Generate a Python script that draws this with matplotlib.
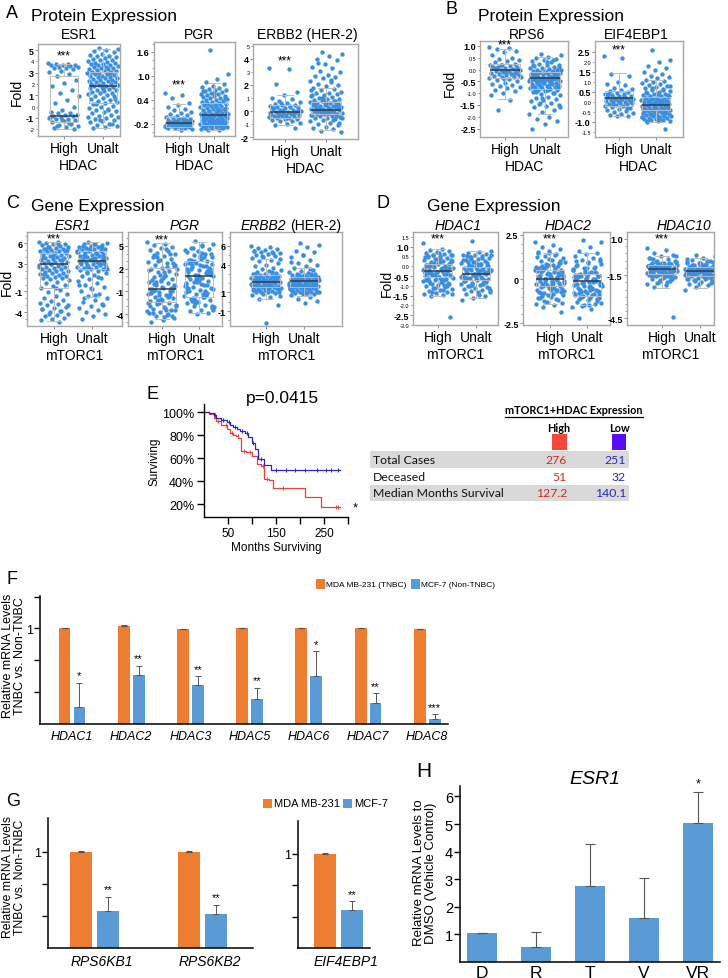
import numpy as np
import matplotlib
matplotlib.use("Agg")
import matplotlib.pyplot as plt
from matplotlib.patches import Rectangle
from matplotlib.lines import Line2D

plt.rcParams['font.family'] = ['Liberation Sans', 'DejaVu Sans']
plt.rcParams['axes.unicode_minus'] = False

# ------------------------------------------------------------------ data
GROUPS = ['High', 'Unalt']

# Panel A (protein, HDAC)
A_ESR1_HIGH = [3.85,3.8,3.75,3.7,3.7,3.65,3.6,3.55,3.5,3.45,3.4,3.3,3.2,3.05,2.9,2.7,2.4,2.1,1.8,1.5,1.2,0.9,0.6,0.3,0.0,-0.3,-0.45,-0.55,-0.6,-0.7,-0.75,-0.8,-0.85,-0.9,-1.0,-1.05,-1.1,-1.2,-1.3,-1.4,-1.5,-1.6,-1.7,-1.8,-1.9,-2.0,-1.15,-0.95,-1.45,-1.75]
A_ESR1_UNALT = [5.2,5.1,5.0,4.9,4.8,4.7,4.6,4.5,4.45,4.4,4.3,4.2,4.15,4.1,4.0,3.95,3.9,3.85,3.8,3.75,3.7,3.65,3.6,3.55,3.5,3.45,3.4,3.35,3.3,3.25,3.2,3.15,3.1,3.05,3.0,2.95,2.9,2.85,2.8,2.75,2.7,2.65,2.6,2.55,2.5,2.45,2.4,2.35,2.3,2.25,2.2,2.15,2.1,2.05,2.0,1.95,1.9,1.85,1.8,1.75,1.7,1.65,1.6,1.5,1.45,1.4,1.3,1.25,1.2,1.1,1.0,0.95,0.9,0.8,0.7,0.6,0.5,0.4,0.3,0.2,0.1,0.0,-0.1,-0.2,-0.3,-0.4,-0.5,-0.6,-0.7,-0.8,-0.9,-1.0,-1.1,-1.2,-1.3,-1.4,-1.5,-1.6,-1.7,-1.8,-1.9,-1.5,-1.2,-0.9,-0.3,0.2,0.7,1.55,2.0,3.0]
A_ESR1_BOX = [(-1.35, -0.8, 2.7, -2.0, 3.8), (0.3, 1.8, 3.1, -1.9, 5.1)]

A_PGR_HIGH = [0.58,0.52,0.45,0.32,0.27,0.22,0.18,0.14,0.1,0.07,0.04,0.02,0.0,-0.02,-0.04,-0.05,-0.07,-0.08,-0.1,-0.11,-0.12,-0.13,-0.14,-0.15,-0.16,-0.17,-0.17,-0.18,-0.19,-0.2,-0.2,-0.21,-0.22,-0.23,-0.24,-0.25,-0.26,-0.27,-0.28,-0.29,-0.3,-0.31,-0.33,-0.35,-0.18,-0.22,-0.12,-0.27,-0.09,-0.15]
A_PGR_UNALT = [1.65,1.05,0.92,0.85,0.8,0.76,0.72,0.7,0.68,0.66,0.64,0.62,0.6,0.58,0.56,0.55,0.53,0.51,0.5,0.48,0.46,0.45,0.43,0.41,0.4,0.38,0.36,0.35,0.33,0.31,0.3,0.28,0.27,0.25,0.24,0.22,0.21,0.2,0.18,0.17,0.15,0.14,0.12,0.11,0.1,0.08,0.07,0.05,0.04,0.03,0.01,0.0,-0.01,-0.02,-0.03,-0.05,-0.06,-0.07,-0.08,-0.09,-0.1,-0.11,-0.12,-0.13,-0.14,-0.15,-0.16,-0.17,-0.18,-0.19,-0.2,-0.21,-0.22,-0.23,-0.24,-0.25,-0.26,-0.27,-0.28,-0.29,-0.3,-0.31,-0.32,-0.34,-0.36,-0.2,-0.15,-0.1,-0.05,0.0,0.05,0.1,-0.25,-0.18,-0.12,-0.03,0.02,0.13,0.19,0.26,-0.22,-0.28,-0.08,0.06,0.16,0.32,0.44,0.57,0.63,-0.14]
A_PGR_BOX = [(-0.28, -0.17, -0.03, -0.35, 0.3), (-0.22, 0.02, 0.32, -0.35, 0.82)]

A_ERBB2_HIGH = [3.3,3.2,2.1,1.5,1.2,1.0,0.9,0.8,0.7,0.6,0.55,0.5,0.45,0.4,0.35,0.3,0.25,0.2,0.15,0.1,0.05,0.0,-0.05,-0.1,-0.1,-0.15,-0.2,-0.2,-0.25,-0.3,-0.3,-0.35,-0.4,-0.4,-0.45,-0.5,-0.55,-0.6,-0.65,-0.7,-0.75,-0.8,-0.9,-1.0,-1.1,-1.3,0.1,-0.15,0.3,-0.35,0.0,-0.5,0.2,-0.25,0.6]
A_ERBB2_UNALT = [4.5,4.4,4.2,4.0,3.9,3.6,3.4,3.3,3.1,3.0,2.8,2.7,2.6,2.5,2.3,2.2,2.1,2.0,1.9,1.8,1.7,1.6,1.5,1.4,1.35,1.3,1.2,1.15,1.1,1.0,0.95,0.9,0.85,0.8,0.75,0.7,0.65,0.6,0.55,0.5,0.45,0.4,0.35,0.3,0.28,0.25,0.2,0.18,0.15,0.1,0.08,0.05,0.0,-0.02,-0.05,-0.1,-0.12,-0.15,-0.2,-0.22,-0.25,-0.3,-0.35,-0.4,-0.45,-0.5,-0.55,-0.6,-0.7,-0.8,-0.9,-1.0,-1.1,-1.2,-1.3,-1.4,-1.5,-1.6,0.1,0.3,0.5,-0.1,-0.3,0.0,0.2,0.4,-0.2,0.6,0.8,1.0,-0.5,0.15,-0.05,0.35,0.7,1.2,-0.7,0.05,0.25,-0.15,0.45,-0.35,0.9,1.6,2.4,3.7,-0.9,0.65]
A_ERBB2_BOX = [(-0.55, -0.1, 0.45, -1.08, 1.2), (-0.25, 0.1, 0.7, -1.45, 1.8)]

# Panel B (protein, HDAC)
B_RPS6_HIGH = [0.95,0.9,0.85,0.8,0.75,0.6,0.5,0.45,0.4,0.35,0.3,0.25,0.2,0.18,0.15,0.12,0.1,0.08,0.05,0.03,0.0,-0.02,-0.05,-0.07,-0.1,-0.12,-0.15,-0.18,-0.2,-0.23,-0.25,-0.28,-0.3,-0.33,-0.35,-0.4,-0.45,-0.5,-0.55,-0.6,-0.65,-0.7,-0.75,-0.8,-0.85,-0.9,-1.0,-1.1,-1.3,-1.7,0.0,-0.1,0.1,-0.2,0.2,-0.3,-0.05,0.05,-0.15,-0.4]
B_RPS6_UNALT = [0.65,0.6,0.55,0.5,0.45,0.4,0.35,0.3,0.25,0.2,0.18,0.15,0.1,0.08,0.05,0.02,0.0,-0.02,-0.05,-0.08,-0.1,-0.12,-0.15,-0.18,-0.2,-0.22,-0.25,-0.28,-0.3,-0.32,-0.35,-0.38,-0.4,-0.42,-0.45,-0.48,-0.5,-0.52,-0.55,-0.58,-0.6,-0.62,-0.65,-0.68,-0.7,-0.72,-0.75,-0.78,-0.8,-0.82,-0.85,-0.88,-0.9,-0.95,-1.0,-1.05,-1.1,-1.15,-1.2,-1.25,-1.3,-1.35,-1.4,-1.45,-1.5,-1.55,-1.6,-1.7,-1.8,-1.9,-2.0,-2.1,-2.2,-2.3,-2.5,-0.3,-0.4,-0.5,-0.35,-0.45,-0.25,-0.55,-0.2,-0.6,-0.15,-0.65,-0.1,-0.7,-0.05,-0.75,0.0,-0.8,-0.3,-0.4,-0.5,-0.28,-0.38,-0.48,0.1,0.3,-0.9,-1.0,-1.2,-0.42,-0.33,-0.58,-0.22,-0.12,0.2,0.4,-1.4,-1.6,-0.85,-0.95,-0.18,-0.36,-0.46,-0.52,-0.62,-0.72]
B_RPS6_BOX = [(-0.37, 0.0, 0.24, -1.25, 0.88), (-0.82, -0.36, -0.09, -1.9, 0.55)]

B_EIF_HIGH = [2.3,2.2,1.4,1.3,1.0,0.9,0.85,0.7,0.65,0.6,0.55,0.5,0.45,0.4,0.38,0.35,0.3,0.28,0.25,0.2,0.18,0.15,0.12,0.1,0.08,0.05,0.02,0.0,-0.02,-0.05,-0.08,-0.1,-0.12,-0.15,-0.2,-0.22,-0.25,-0.3,-0.35,-0.4,-0.45,-0.5,-0.55,-0.6,-0.65,-0.7,-0.72,0.2,0.3,-0.1,0.0,0.1,0.4,-0.3,0.15]
B_EIF_UNALT = [2.6,2.1,2.0,1.8,1.7,1.6,1.5,1.4,1.3,1.25,1.2,1.1,1.05,1.0,0.95,0.9,0.85,0.8,0.75,0.7,0.65,0.6,0.55,0.5,0.45,0.4,0.38,0.35,0.3,0.28,0.25,0.2,0.18,0.15,0.12,0.1,0.08,0.05,0.02,0.0,-0.02,-0.05,-0.08,-0.1,-0.12,-0.15,-0.18,-0.2,-0.22,-0.25,-0.28,-0.3,-0.32,-0.35,-0.38,-0.4,-0.42,-0.45,-0.48,-0.5,-0.52,-0.55,-0.58,-0.6,-0.62,-0.65,-0.68,-0.7,-0.72,-0.75,-0.78,-0.8,-0.82,-0.85,-0.88,-0.9,-0.92,-0.95,-0.98,-1.0,-1.35,-0.1,-0.2,-0.3,-0.4,0.0,0.1,0.2,-0.5,-0.6,-0.7,-0.8,-0.15,-0.25,-0.35,-0.45,0.05,0.15,0.3,0.4,0.5,-0.55,-0.65,-0.75,-0.05,-0.12,-0.22,-0.33,-0.43,0.6,0.7,0.8,-0.9,-0.95,-0.02,-0.28,-0.38,-0.48,0.25,0.35]
B_EIF_BOX = [(-0.23, 0.18, 0.55, -0.7, 1.45), (-0.4, -0.17, 0.22, -1.0, 1.1)]

# Panel C (gene, mTORC1)
C_ESR1_HIGH = [6.2,6.1,6.0,5.9,5.8,5.7,5.6,5.5,5.4,5.3,5.2,5.1,5.0,4.9,4.8,4.7,4.6,4.5,4.4,4.3,4.2,4.1,4.0,3.9,3.8,3.7,3.6,3.5,3.4,3.3,3.2,3.1,3.0,2.9,2.8,2.7,2.6,2.5,2.4,2.3,2.2,2.1,2.0,1.9,1.8,1.7,1.6,1.5,1.4,1.3,1.2,1.1,1.0,0.9,0.8,0.6,0.4,0.2,0.0,-0.2,-0.5,-0.8,-1.1,-1.4,-1.7,-2.0,-2.2,-2.4,-2.6,-2.8,-3.0,-3.2,-3.4,-3.6,-3.8,-4.0,-4.2,-4.4,-4.6,-4.8,-5.0,-5.2,-5.4,5.5,5.0,4.5,4.0,3.5,3.0,2.5,5.8,5.2,4.8,4.2,-3.5,-3.9,-4.3,-2.9,-0.5,1.5]
C_ESR1_UNALT = [6.1,6.0,5.9,5.8,5.7,5.6,5.5,5.4,5.3,5.2,5.1,5.0,4.9,4.8,4.7,4.6,4.5,4.4,4.3,4.2,4.1,4.0,3.9,3.8,3.7,3.6,3.5,3.4,3.3,3.2,3.1,3.0,2.9,2.8,2.7,2.6,2.5,2.4,2.3,2.2,2.1,2.0,1.8,1.6,1.4,1.2,1.0,0.8,0.5,0.2,-0.1,-0.4,-0.7,-1.0,-1.3,-1.6,-1.9,-2.2,-2.5,-2.8,-3.1,-3.4,-3.7,-4.0,-4.3,-4.6,-5.0,5.5,5.2,4.9,4.6,4.3,4.0,3.7,3.4,3.1,2.8,2.5,5.9,5.6,5.3,5.0,4.7,4.4,4.1,3.8,3.5,3.2,2.9,2.6,2.3,-1.5,-2.0,-3.0,-0.5,0.0,1.1,1.7,3.0,3.6]
C_ESR1_BOX = [(-0.5, 3.0, 4.55, -5.3, 6.2), (2.2, 3.45, 4.9, -1.8, 6.1)]

C_PGR_HIGH = [5.5,5.3,5.1,4.9,4.7,4.5,4.3,4.1,3.9,3.7,3.5,3.3,3.1,2.9,2.7,2.5,2.3,2.1,1.9,1.7,1.5,1.3,1.1,0.9,0.7,0.5,0.3,0.1,-0.1,-0.3,-0.5,-0.7,-0.9,-1.1,-1.3,-1.5,-1.7,-1.9,-2.1,-2.3,-2.5,-2.7,-2.9,-3.1,-3.3,-3.5,-3.7,-3.9,-4.1,-4.3,-4.5,-4.8,-5.0,4.0,3.0,2.0,1.0,0.0,-1.0,-2.0,-3.0,-4.0,3.5,2.5,1.5,0.5,-0.5,-1.5,-2.5,-3.5,-0.8,-0.6,-0.4,-1.2,-1.6,-2.2,-2.8,-3.2,-3.8,-4.2,1.2,1.8,2.2,0.2,-0.2,0.8,-0.9,-1.4,-2.6,-3.6,4.6,3.8,2.8,0.4,-0.7,-1.8,-2.4,-3.4,-4.4,-1.0]
C_PGR_UNALT = [5.6,5.3,5.0,4.8,4.6,4.4,4.2,4.0,3.8,3.6,3.4,3.2,3.0,2.8,2.6,2.4,2.2,2.0,1.8,1.6,1.4,1.2,1.0,0.8,0.6,0.4,0.2,0.0,-0.2,-0.4,-0.6,-0.8,-1.0,-1.2,-1.4,-1.6,-1.8,-2.0,-2.2,-2.4,-2.6,-2.8,-3.0,-3.2,-3.4,-3.6,-3.8,-4.0,4.5,3.5,2.5,1.5,0.5,-0.5,-1.5,-2.5,-3.5,4.1,3.1,2.1,1.1,0.1,-0.9,-1.9,-2.9,3.7,2.7,1.7,0.7,-0.3,-1.3,-2.3,1.3,0.9,1.9,2.3,0.3,-0.7,3.3,2.9,1.4,0.6,-1.1,-1.7,4.7,3.9,2.5,1.0,-0.1,-2.1,-3.1,5.1,2.0,1.6,0.4,-0.5,-1.4,3.0,2.6,0.0]
C_PGR_BOX = [(-2.4, -0.65, 2.15, -4.7, 5.4), (-1.7, 1.05, 3.05, -3.9, 5.5)]

C_ERBB2_HIGH = [6.0,5.9,5.8,5.7,5.6,5.5,5.4,5.3,5.2,5.1,5.0,4.9,4.8,4.7,4.5,4.4,4.2,4.0,3.8,3.6,3.5,3.4,3.3,3.2,3.1,3.0,2.95,2.9,2.85,2.8,2.75,2.7,2.65,2.6,2.55,2.5,2.45,2.4,2.35,2.3,2.25,2.2,2.15,2.1,2.05,2.0,1.95,1.9,1.85,1.8,1.75,1.7,1.65,1.6,1.55,1.5,1.45,1.4,1.35,1.3,1.25,1.2,1.15,1.1,1.05,1.0,0.9,0.8,0.7,0.5,0.3,-0.3,-2.3,5.5,5.2,4.9,4.6,2.0,2.2,2.4,1.8,1.6,2.6,2.8,1.4,1.2,3.0,2.1,2.3,1.9,1.7,2.5,2.7,1.5,1.3,3.2,1.1,0.6,2.05,1.95]
C_ERBB2_UNALT = [6.3,6.1,5.9,5.5,5.3,5.0,4.8,4.5,4.2,4.0,3.8,3.6,3.4,3.3,3.2,3.1,3.0,2.95,2.9,2.85,2.8,2.75,2.7,2.65,2.6,2.55,2.5,2.45,2.4,2.35,2.3,2.25,2.2,2.15,2.1,2.05,2.0,1.95,1.9,1.85,1.8,1.75,1.7,1.65,1.6,1.55,1.5,1.45,1.4,1.35,1.3,1.25,1.2,1.15,1.1,1.05,1.0,0.95,0.9,0.85,0.8,0.7,0.5,0.3,0.1,-0.1,2.0,2.2,2.4,1.8,1.6,2.6,2.8,1.4,1.2,3.0,2.1,2.3,1.9,1.7,2.5,2.7,1.5,1.3,2.05,1.95,2.15,2.25,1.85,1.75,2.35,2.45,1.65,1.55,5.0,4.3,3.5,2.9,1.1,0.9]
C_ERBB2_BOX = [(1.55, 2.16, 2.88, 0.3, 4.6), (1.55, 2.2, 2.63, 0.6, 3.6)]

# Panel D (gene, mTORC1)
D_HDAC1_HIGH = [1.2,0.9,0.85,0.8,0.75,0.7,0.65,0.6,0.55,0.5,0.45,0.4,0.35,0.3,0.25,0.2,0.15,0.1,0.05,0.0,-0.05,-0.1,-0.15,-0.2,-0.25,-0.3,-0.35,-0.4,-0.45,-0.5,-0.55,-0.6,-0.65,-0.7,-0.75,-0.8,-0.85,-0.9,-0.95,-1.0,-1.05,-1.1,-1.15,-1.2,-1.25,-1.3,-1.35,-1.4,-1.45,-1.5,-2.6,0.2,0.0,-0.2,-0.4,-0.6,-0.8,0.1,-0.1,-0.3,-0.5,-0.7,-0.9,0.3,0.4,0.5,-1.0,-1.1,-0.15,-0.25,-0.35,-0.45,-0.55,0.05,-0.05,0.15,0.25,-0.65,-0.75,-0.85,0.35,0.45,-1.2,-1.3,0.6,0.7,-0.28,-0.38,-0.48,-0.18,-0.08,0.02,0.12,-0.58,-0.68,-0.95,0.55,-1.4,0.22,-0.32]
D_HDAC1_UNALT = [1.3,0.8,0.75,0.7,0.65,0.6,0.55,0.5,0.45,0.4,0.35,0.3,0.25,0.2,0.15,0.1,0.05,0.0,-0.05,-0.1,-0.15,-0.2,-0.25,-0.3,-0.35,-0.4,-0.45,-0.5,-0.55,-0.6,-0.65,-0.7,-0.75,-0.8,-0.85,-0.9,-0.95,-1.0,-1.05,-1.1,-1.15,-1.2,-1.25,-1.3,-1.35,-1.4,-1.5,-1.6,-1.7,0.1,-0.1,-0.3,-0.5,-0.7,-0.9,0.0,-0.2,-0.4,-0.6,-0.8,0.2,0.3,0.4,-1.0,-1.1,-0.15,-0.25,-0.35,-0.45,-0.55,0.05,-0.05,0.15,-0.65,-0.75,-0.85,0.35,-1.2,-1.3,0.5,-0.28,-0.38,-0.48,-0.18,-0.08,0.02,0.12,-0.58,-0.68,-0.95,0.6,-1.45,0.22,-0.32,-0.42,-0.52,-0.62,0.45,-0.12,-0.22]
D_HDAC1_BOX = [(-0.57, -0.23, 0.1, -1.5, 0.9), (-0.68, -0.37, -0.02, -1.6, 0.8)]

D_HDAC2_HIGH = [2.1,1.95,1.8,1.7,1.6,1.5,1.4,1.3,1.2,1.1,1.0,0.9,0.8,0.7,0.6,0.5,0.4,0.3,0.2,0.1,0.0,-0.1,-0.2,-0.3,-0.4,-0.5,-0.6,-0.7,-0.8,-0.9,-1.0,-1.1,-1.2,-1.3,-1.4,-1.5,-1.6,-1.9,0.15,0.05,-0.05,-0.15,-0.25,-0.35,-0.45,0.25,0.35,0.45,0.55,0.65,-0.55,-0.65,-0.75,0.75,0.85,0.95,-0.85,-0.95,1.05,1.15,-1.05,-1.15,0.0,0.1,-0.1,0.2,-0.2,0.3,-0.3,0.4,-0.4,0.5,-0.5,0.6,-0.6,0.7,-0.7,0.8,-0.8,0.9,-0.9,1.25,1.35,-1.25,-1.35,0.12,-0.12,0.32,-0.32,0.52,-0.52,0.72,-0.72,1.45,1.55,-0.02,0.02,0.22,-0.22,0.42]
D_HDAC2_UNALT = [2.2,2.1,1.8,1.6,1.5,1.4,1.3,1.2,1.1,1.0,0.9,0.8,0.7,0.6,0.5,0.4,0.3,0.2,0.1,0.0,-0.1,-0.2,-0.3,-0.4,-0.5,-0.6,-0.7,-0.8,-0.9,-1.0,-1.1,-1.2,-1.3,-1.4,-1.5,-1.6,-1.7,-2.2,0.15,0.05,-0.05,-0.15,-0.25,-0.35,-0.45,0.25,0.35,0.45,0.55,-0.55,-0.65,-0.75,0.65,0.75,-0.85,-0.95,0.85,-1.05,-1.15,-1.25,0.0,0.1,-0.1,0.2,-0.2,0.3,-0.3,0.4,-0.4,0.5,-0.5,-0.6,-0.7,-0.8,-0.9,0.6,-1.0,-1.35,-1.45,0.12,-0.12,0.32,-0.32,-0.52,-0.72,-0.92,0.95,1.05,-0.02,-0.22,-0.42,-0.62,-0.82,-1.12,0.42,0.22,0.02,-1.55,1.15,-0.18]
D_HDAC2_BOX = [(-0.41, 0.0, 0.53, -1.4, 1.5), (-0.95, -0.11, 0.28, -1.5, 1.5)]

D_HDAC10_HIGH = [0.4,0.2,0.0,-0.1,-0.2,-0.3,-0.4,-0.5,-0.6,-0.65,-0.7,-0.75,-0.8,-0.85,-0.9,-0.95,-1.0,-1.05,-1.1,-1.15,-1.2,-1.25,-1.3,-1.35,-1.4,-1.45,-1.5,-1.55,-1.6,-1.65,-1.7,-1.8,-1.9,-2.0,-2.1,-2.2,-2.35,-4.4,-0.7,-0.8,-0.9,-1.0,-1.1,-1.2,-1.3,-1.4,-0.75,-0.85,-0.95,-1.05,-1.15,-1.25,-1.35,-1.45,-0.72,-0.82,-0.92,-1.02,-1.12,-1.22,-1.32,-1.42,-0.6,-0.5,-1.5,-1.6,-1.7,-0.78,-0.88,-0.98,-1.08,-1.18,-1.28,-1.38,-0.68,-1.48,-0.58,-1.58,-0.4,-1.75,-1.85,-0.3,-1.95,-0.98,-1.08,-1.18,-0.88,-1.28,-0.78,-1.38,-1.0,-1.1,-1.2,-0.9,-1.3,-0.8,-2.05,-0.2,-1.65,-1.55]
D_HDAC10_UNALT = [-0.1,-0.2,-0.35,-0.45,-0.55,-0.65,-0.7,-0.75,-0.8,-0.85,-0.9,-0.95,-1.0,-1.05,-1.1,-1.15,-1.2,-1.25,-1.3,-1.35,-1.4,-1.45,-1.5,-1.55,-1.6,-1.65,-1.7,-1.75,-1.8,-1.85,-1.9,-2.0,-2.1,-2.2,-2.3,-2.5,-0.8,-0.9,-1.0,-1.1,-1.2,-1.3,-1.4,-1.5,-0.85,-0.95,-1.05,-1.15,-1.25,-1.35,-1.45,-1.55,-0.82,-0.92,-1.02,-1.12,-1.22,-1.32,-1.42,-1.52,-1.62,-0.6,-1.7,-0.88,-0.98,-1.08,-1.18,-1.28,-1.38,-1.48,-1.58,-0.78,-1.68,-0.68,-1.78,-0.5,-1.88,-1.98,-1.0,-1.1,-1.2,-1.3,-1.4,-0.9,-1.5,-1.6,-0.75,-1.25,-1.35,-1.15,-1.45,-1.05,-0.95,-2.05,-2.15,-0.4,-1.72,-1.82,-0.58,-1.22]
D_HDAC10_BOX = [(-1.43, -1.09, -0.81, -2.4, -0.2), (-1.59, -1.24, -0.93, -2.4, -0.3)]

# Panel E (Kaplan-Meier, months vs % surviving)
KM_T_HIGH = [0, 10, 20, 26, 35, 47, 55, 61, 66, 71, 78, 88, 99, 110, 118, 126, 135, 144, 210, 243, 283]
KM_S_HIGH = [100, 98, 95, 92, 89, 85, 82, 80, 79, 77, 66, 65, 62, 55, 53, 42, 41, 34, 26, 17, 17]
KM_T_LOW = [0, 10, 20, 26, 35, 47, 55, 61, 68, 75, 85, 92, 99, 106, 113, 124, 139, 283]
KM_S_LOW = [100, 99, 97, 95, 93, 91, 89, 87, 85, 83.5, 82, 78, 73, 68, 59, 54, 50, 50]
KM_CENS_HIGH = [30, 45, 58, 70, 84, 95, 122, 132, 165, 275, 280]
KM_CENS_LOW = [22, 40, 52, 65, 80, 90, 102, 118, 150, 170, 190, 210, 235, 255, 265, 280]
TABLE_ROWS = ['Total Cases', 'Deceased', 'Median Months Survival']
TABLE_HIGH = ['276', '51', '127.2']
TABLE_LOW = ['251', '32', '140.1']

# Panel F
F_GENES = ['HDAC1', 'HDAC2', 'HDAC3', 'HDAC5', 'HDAC6', 'HDAC7', 'HDAC8']
F_MDA = [1.0, 1.03, 0.99, 1.0, 1.0, 1.0, 0.99]
F_MDA_ERR = [0.006, 0.006, 0.0, 0.006, 0.006, 0.006, 0.006]
F_MCF = [0.18, 0.51, 0.41, 0.26, 0.50, 0.22, 0.05]
F_MCF_ERR = [0.25, 0.10, 0.09, 0.12, 0.26, 0.10, 0.05]
F_SIG = ['*', '**', '**', '**', '*', '**', '***']

# Panel G
G_GENES = ['RPS6KB1', 'RPS6KB2', 'EIF4EBP1']
G_MDA = [1.0, 1.0, 1.0]
G_MDA_ERR = [0.006, 0.006, 0.006]
G_MCF = [0.385, 0.35, 0.40]
G_MCF_ERR = [0.145, 0.10, 0.10]
G_SIG = ['**', '**', '**']

# Panel H
H_TREAT = ['D', 'R', 'T', 'V', 'VR']
H_VALS = [1.05, 0.55, 2.77, 1.58, 5.05]
H_ERR = [0.01, 0.53, 1.51, 1.46, 1.12]
H_SIG = ['', '', '', '', '*']

# ------------------------------------------------------------------ figure
W, H = 728, 979
fig = plt.figure(figsize=(W / 100, H / 100), dpi=100)
PT = '#3b8fe2'
OR = '#ed7d31'
BL = '#5b9bd5'


def add_ax(l, t, r, b):
    return fig.add_axes([l / W, 1 - b / H, (r - l) / W, (b - t) / H])


def ftext(x, y, s, **kw):
    kw.setdefault('ha', 'left')
    kw.setdefault('va', 'center')
    return fig.text(x / W, 1 - y / H, s, **kw)


def frect(l, t, r, b, color):
    fig.add_artist(Rectangle((l / W, 1 - b / H), (r - l) / W, (b - t) / H,
                             transform=fig.transFigure, color=color, lw=0))


def strip_panel(px, centers, ylim, groups, boxes, major, major_lab,
                minor, minor_lab, star_y, xlabel):
    l, t, r, b = px
    ax = add_ax(l, t, r, b)
    c0, c1 = centers
    u = c1 - c0
    ax.set_xlim(-(c0 - l) / u, (r - c0) / u)
    ax.set_ylim(*ylim)
    for k, vals in enumerate(groups):
        v = np.asarray(vals, float)
        off = ((np.arange(v.size) * 0.6180339887 + 0.37 * k) % 1.0 - 0.5) * 0.80
        ax.scatter(k + off, v, s=10, color=PT, linewidths=0, zorder=2)
    stats = [dict(q1=q1, med=md, q3=q3, whislo=lo, whishi=hi, fliers=[])
             for (q1, md, q3, lo, hi) in boxes]
    gp = dict(color='#bcbcbc', lw=0.7)
    ax.bxp(stats, positions=[0, 1], widths=0.74, showfliers=False,
           boxprops=gp, whiskerprops=gp, capprops=gp,
           medianprops=dict(color='#3a3a3a', lw=1.1), zorder=3)
    ax.set_yticks(major)
    ax.set_yticklabels(major_lab, fontsize=6.5, fontweight='bold')
    ax.set_yticks(minor, minor=True)
    if minor_lab is not None:
        ax.set_yticklabels(minor_lab, minor=True, fontsize=4)
    ax.tick_params(axis='y', which='major', length=2.2, width=0.6, color='#777777', pad=1)
    ax.tick_params(axis='y', which='minor', length=1.5, width=0.5, color='#777777', pad=1)
    ax.set_xticks([0, 1])
    ax.set_xticklabels(GROUPS, fontsize=10)
    ax.tick_params(axis='x', length=2.5, width=0.6, color='#777777', pad=1)
    ax.set_xlabel(xlabel, fontsize=10, labelpad=2)
    for s in ax.spines.values():
        s.set_color('#a8a8a8')
        s.set_linewidth(1.0)
    if star_y is not None:
        ax.text(0, star_y, '***', ha='center', va='center', fontsize=8.5, zorder=5)
    return ax


def minors(lo, hi, step, majors):
    vals = np.round(np.arange(lo, hi + 1e-9, step), 3)
    return [v for v in vals if all(abs(v - m) > 1e-6 for m in majors)]


# ---- Panel A
ftext(6, 14, 'A', fontsize=13)
ftext(31, 16, 'Protein Expression', fontsize=12.5)
ftext(79, 35, 'ESR1', fontsize=10, ha='center')
ftext(199, 35, 'PGR', fontsize=10, ha='center')
ftext(307, 35, 'ERBB2 (HER-2)', fontsize=10, ha='center')
strip_panel((38, 45, 120, 137), (64, 103), (-2.6, 5.55), [A_ESR1_HIGH, A_ESR1_UNALT], A_ESR1_BOX,
            [5, 3, 1, -1], ['5', '3', '1', '-1'], [4, 2, 0, -2], ['4', '2', '0', '-2'], 4.5, 'HDAC')
mj = [1.6, 1.0, 0.4, -0.2]
strip_panel((154, 43, 235, 137), (179, 214), (-0.5, 1.85), [A_PGR_HIGH, A_PGR_UNALT], A_PGR_BOX,
            mj, ['1.6', '1.0', '0.4', '-0.2'], minors(-0.4, 1.8, 0.2, mj), None, 0.8, 'HDAC')
strip_panel((253, 45, 358, 140), (285, 326), (-2.15, 5.15), [A_ERBB2_HIGH, A_ERBB2_UNALT], A_ERBB2_BOX,
            [4, 2, 0, -2], ['4', '2', '0', '-2'], [5, 3, 1, -1], ['5', '3', '1', '-1'], 3.87, 'HDAC')
ftext(17, 92, 'Fold', fontsize=10, rotation=90, ha='center')

# ---- Panel B
ftext(445, 9, 'B', fontsize=13)
ftext(478, 17, 'Protein Expression', fontsize=12.5)
ftext(527, 35, 'RPS6', fontsize=10, ha='center')
ftext(636, 35, 'EIF4EBP1', fontsize=10, ha='center')
strip_panel((480, 42, 568, 138), (505, 545), (-2.86, 1.21), [B_RPS6_HIGH, B_RPS6_UNALT], B_RPS6_BOX,
            [1.0, -0.5, -1.5, -2.5], ['1.0', '-0.5', '-1.5', '-2.5'],
            [0.5, 0.0, -1.0, -2.0], ['0.5', '0.0', '-1.0', '-2.0'], 1.08, 'HDAC')
strip_panel((595, 42, 683, 138), (619, 656), (-1.77, 3.03), [B_EIF_HIGH, B_EIF_UNALT], B_EIF_BOX,
            [2.5, 1.5, 0.5, -1.0], ['2.5', '1.5', '0.5', '-1.0'],
            [2.0, 1.0, 0.0, -0.5, -1.5], ['2.0', '1.0', '0.0', '-0.5', '-1.5'], 2.6, 'HDAC')
ftext(450, 83, 'Fold', fontsize=10, rotation=90, ha='center')

# ---- Panel C
ftext(6, 204, 'C', fontsize=13)
ftext(31, 206, 'Gene Expression', fontsize=12.5)
ftext(73, 226, 'ESR1', fontsize=10, ha='center', style='italic')
ftext(185, 226, 'PGR', fontsize=10, ha='center', style='italic')
ftext(286, 226, 'ERBB2', fontsize=10, ha='right', style='italic')
ftext(290, 226, '(HER-2)', fontsize=10, ha='left')
mj = [6, 3, -1, -4]
strip_panel((27, 233, 122, 327), (54, 92), (-6.0, 7.6), [C_ESR1_HIGH, C_ESR1_UNALT], C_ESR1_BOX,
            mj, ['6', '3', '-1', '-4'], minors(-5, 7, 1, mj), None, 6.7, 'mTORC1')
mj = [5, 2, -1, -4]
strip_panel((128, 233, 222, 327), (162, 199), (-5.58, 6.85), [C_PGR_HIGH, C_PGR_UNALT], C_PGR_BOX,
            mj, ['5', '2', '-1', '-4'], minors(-5, 6, 1, mj), None, 5.9, 'mTORC1')
mj = [6, 4, 1, -1]
strip_panel((230, 233, 342, 327), (266, 304), (-2.6, 7.5), [C_ERBB2_HIGH, C_ERBB2_UNALT], C_ERBB2_BOX,
            mj, ['6', '4', '1', '-1'], minors(-2, 7, 1, mj), None, None, 'mTORC1')
ftext(7, 282, 'Fold', fontsize=10, rotation=90, ha='center')

# ---- Panel D
ftext(376, 204, 'D', fontsize=13)
ftext(427, 206, 'Gene Expression', fontsize=12.5)
ftext(458, 226, 'HDAC1', fontsize=10, ha='center', style='italic')
ftext(568, 226, 'HDAC2', fontsize=10, ha='center', style='italic')
ftext(684, 226, 'HDAC10', fontsize=10, ha='center', style='italic')
strip_panel((413, 233, 498, 326), (438, 476), (-2.95, 1.75), [D_HDAC1_HIGH, D_HDAC1_UNALT], D_HDAC1_BOX,
            [1.0, -0.5, -1.5, -2.5], ['1.0', '-0.5', '-1.5', '-2.5'],
            [1.5, 0.5, 0.0, -1.0, -2.0, -3.0], ['1.5', '0.5', '0.0', '-1.0', '-2.0', '-3.0'], 1.4, 'mTORC1')
mj = [2.5, 0, -2.5]
strip_panel((523, 233, 610, 326), (550, 587), (-2.61, 2.67), [D_HDAC2_HIGH, D_HDAC2_UNALT], D_HDAC2_BOX,
            mj, ['2.5', '0', '-2.5'], minors(-2.5, 2.5, 0.5, mj), None, 2.33, 'mTORC1')
mj = [1.0, -1.5, -4.5]
strip_panel((627, 233, 714, 326), (662, 700), (-4.95, 1.47), [D_HDAC10_HIGH, D_HDAC10_UNALT], D_HDAC10_BOX,
            mj, ['1.0', '-1.5', '-4.5'], minors(-4.5, 1.0, 0.5, mj), None, 1.05, 'mTORC1')
ftext(387, 283, 'Fold', fontsize=10, rotation=90, ha='center')

# ---- Panel E: Kaplan-Meier
ftext(146, 395, 'E', fontsize=13)
axk = add_ax(204, 405, 348, 518)
axk.step(KM_T_HIGH, KM_S_HIGH, where='post', color='#e8403a', lw=0.9)
axk.step(KM_T_LOW, KM_S_LOW, where='post', color='#2626d6', lw=0.9)
for tt, ss, cens, col in [(KM_T_HIGH, KM_S_HIGH, KM_CENS_HIGH, '#e8403a'),
                          (KM_T_LOW, KM_S_LOW, KM_CENS_LOW, '#2626d6')]:
    idx = np.searchsorted(tt, cens, side='right') - 1
    axk.plot(cens, np.asarray(ss)[idx], ls='none', marker='|', ms=2.5, mew=0.7, color=col)
axk.set_xlim(0, 300)
axk.set_ylim(8.7, 107)
axk.set_yticks([20, 40, 60, 80, 100])
axk.set_yticklabels(['20%', '40%', '60%', '80%', '100%'], fontsize=9)
axk.set_xticks([50, 100, 150, 200, 250, 300])
axk.set_xticklabels(['50', '', '150', '', '250', ''], fontsize=8.5)
axk.tick_params(length=5, width=1.0, color='black', pad=2)
for s in ['top', 'right']:
    axk.spines[s].set_visible(False)
for s in ['left', 'bottom']:
    axk.spines[s].set_linewidth(1.0)
axk.set_xlabel('Months Surviving', fontsize=8.5, labelpad=2)
axk.set_ylabel('Surviving', fontsize=8.5, labelpad=1)
axk.text(1.03, 17, '*', transform=axk.get_yaxis_transform(), fontsize=9, va='center')
ftext(282, 399, 'p=0.0415', fontsize=12.5, ha='center')

# table
TF = ['Lato', 'DejaVu Sans']
ftext(574, 411, 'mTORC1+HDAC Expression', fontsize=7.8, fontweight='bold', ha='center', family=TF)
fig.add_artist(Line2D([505 / W, 643 / W], [1 - 417.5 / H, 1 - 417.5 / H], transform=fig.transFigure,
                      color='black', lw=0.9))
ftext(559, 429, 'High', fontsize=7.8, fontweight='bold', ha='center', family=TF)
ftext(619, 429, 'Low', fontsize=7.8, fontweight='bold', ha='center', family=TF)
frect(552, 435, 567, 451, '#f5473a')
frect(612, 435, 626, 451, '#5a0cf5')
row_y = [(452, 469), (469, 486), (486, 502)]
for i, (lab, vh, vl) in enumerate(zip(TABLE_ROWS, TABLE_HIGH, TABLE_LOW)):
    t0, t1 = row_y[i]
    if i % 2 == 0:
        frect(370, t0, 629, t1, '#d9d9d9')
    yc = (t0 + t1) / 2
    ftext(373, yc, lab, fontsize=8.8, family=TF, color='#111111')
    ftext(567, yc, vh, fontsize=8.8, family=TF, color='#d02828', ha='right')
    ftext(626, yc, vl, fontsize=8.8, family=TF, color='#2828c8', ha='right')

# ---- Panel F
ftext(6, 579, 'F', fontsize=13)
frect(316, 580, 325, 590, OR)
ftext(326, 585.5, 'MDA MB-231 (TNBC)', fontsize=6)
frect(411, 580, 420, 590, BL)
ftext(421, 585.5, 'MCF-7 (Non-TNBC)', fontsize=6)

axf = add_ax(40, 597, 448, 725)
xf = np.arange(len(F_GENES))
axf.bar(xf - 0.126, F_MDA, width=0.2, color=OR, zorder=2)
axf.bar(xf + 0.126, F_MCF, width=0.2, color=BL, zorder=2)
axf.errorbar(xf - 0.126, F_MDA, yerr=[np.zeros(len(xf)), F_MDA_ERR], fmt='none',
             ecolor='#555555', elinewidth=0.6, capsize=2, capthick=0.8, zorder=3)
axf.errorbar(xf + 0.126, F_MCF, yerr=[np.zeros(len(xf)), F_MCF_ERR], fmt='none',
             ecolor='#555555', elinewidth=0.7, capsize=2.2, capthick=0.7, zorder=3)
for i in range(len(xf)):
    axf.text(xf[i] + 0.126, F_MCF[i] + F_MCF_ERR[i] + 0.025, F_SIG[i], ha='center',
             va='bottom', fontsize=8)
axf.set_xlim(-0.54, 6.35)
axf.set_ylim(0, 1.34)
axf.set_yticks([1 / 3, 2 / 3, 1, 4 / 3])
axf.set_yticklabels(['', '', '1', ''], fontsize=9)
axf.set_xticks(xf)
axf.set_xticklabels(F_GENES, fontsize=9, style='italic')
axf.tick_params(axis='x', length=0, pad=4)
axf.tick_params(axis='y', length=4, width=1.0, pad=1)
for s in ['top', 'right']:
    axf.spines[s].set_visible(False)
for s in ['left', 'bottom']:
    axf.spines[s].set_linewidth(1.1)
ftext(14, 656, 'Relative mRNA Levels\nTNBC vs. Non-TNBC', fontsize=9, rotation=90,
      ha='center', linespacing=1.0)

# ---- Panel G
ftext(6, 801, 'G', fontsize=13)
frect(263, 800, 272, 809, OR)
ftext(274, 804.5, 'MDA MB-231', fontsize=8)
frect(343, 800, 352, 809, BL)
ftext(354, 804.5, 'MCF-7', fontsize=8)


def style_bar_ax(ax):
    for s in ['top', 'right']:
        ax.spines[s].set_visible(False)
    for s in ['left', 'bottom']:
        ax.spines[s].set_linewidth(1.1)
    ax.tick_params(axis='x', length=0, pad=4)
    ax.tick_params(axis='y', length=4, width=1.0, pad=1)


for gidx, (px, xl) in enumerate([((48, 819, 253, 949), (-0.43, 1.47)),
                                  ((298, 822, 370, 949), (-0.377, 0.293))]):
    ax = add_ax(*px)
    sel = [0, 1] if gidx == 0 else [2]
    xg = np.arange(len(sel))
    mda = [G_MDA[j] for j in sel]
    mda_e = [G_MDA_ERR[j] for j in sel]
    mcf = [G_MCF[j] for j in sel]
    mcf_e = [G_MCF_ERR[j] for j in sel]
    ax.bar(xg - 0.126, mda, width=0.205, color=OR, zorder=2)
    ax.bar(xg + 0.126, mcf, width=0.205, color=BL, zorder=2)
    ax.errorbar(xg - 0.126, mda, yerr=[np.zeros(len(xg)), mda_e], fmt='none',
                ecolor='#555555', elinewidth=0.6, capsize=2, capthick=0.8, zorder=3)
    ax.errorbar(xg + 0.126, mcf, yerr=[np.zeros(len(xg)), mcf_e], fmt='none',
                ecolor='#555555', elinewidth=0.7, capsize=2.5, capthick=0.7, zorder=3)
    for k, j in enumerate(sel):
        ax.text(xg[k] + 0.126, mcf[k] + mcf_e[k] + 0.025, G_SIG[j], ha='center',
                va='bottom', fontsize=8)
    ax.set_xlim(*xl)
    ax.set_ylim(0, 1.35)
    ax.set_yticks([1 / 3, 2 / 3, 1])
    ax.set_yticklabels(['', '', '1'], fontsize=9)
    ax.set_xticks(xg + 0.07)
    ax.set_xticklabels([G_GENES[j] for j in sel], fontsize=10, style='italic')
    style_bar_ax(ax)
ftext(14, 877, 'Relative mRNA Levels\nTNBC vs. Non-TNBC', fontsize=8.8, rotation=90,
      ha='center', linespacing=1.0)

# ---- Panel H
ftext(416, 772, 'H', fontsize=15)
ftext(595, 780, 'ESR1', fontsize=14, ha='center', style='italic')
axh = add_ax(460, 787, 720, 963)
xh = np.arange(len(H_TREAT))
axh.bar(xh, H_VALS, width=0.55, color=BL, zorder=2)
axh.errorbar(xh, H_VALS, yerr=[np.zeros(len(xh)), H_ERR], fmt='none', ecolor='#555555',
             elinewidth=0.8, capsize=3.5, capthick=0.8, zorder=3)
for i in range(len(xh)):
    if H_SIG[i]:
        axh.text(xh[i], H_VALS[i] + H_ERR[i] + 0.1, H_SIG[i], ha='center', va='bottom',
                 fontsize=9, clip_on=False)
axh.set_xlim(-0.41, 4.41)
axh.set_ylim(0, 6.38)
axh.set_yticks([1, 2, 3, 4, 5, 6])
axh.set_yticklabels(['1', '2', '3', '4', '5', '6'], fontsize=10.5)
axh.set_xticks(xh)
axh.set_xticklabels(H_TREAT, fontsize=12.5)
style_bar_ax(axh)
axh.tick_params(axis='x', pad=2)
ftext(425, 873, 'Relative mRNA Levels to\nDMSO (Vehicle Control)', fontsize=9.5, rotation=90,
      ha='center', linespacing=1.1)

fig.savefig('out.png', dpi=100)
